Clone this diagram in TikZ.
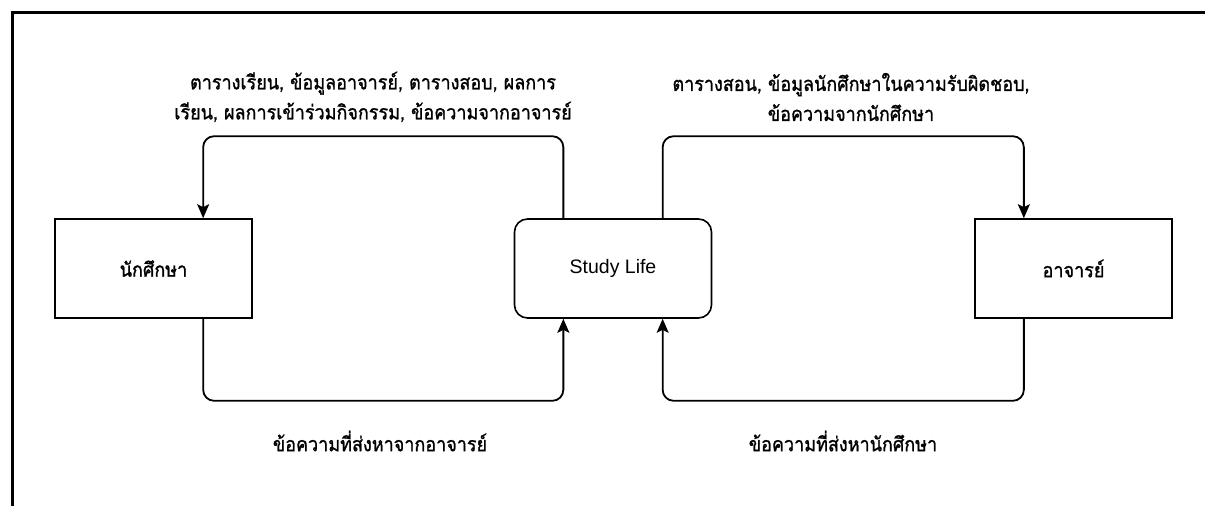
\documentclass[tikz,border=0pt]{standalone}
\usepackage{fontspec}
\setmainfont{Liberation Sans}
\newfontfamily\thai[Script=Thai, FakeStretch=0.9, FakeBold=1.2]{Loma}
\usetikzlibrary{arrows.meta,calc}
\tikzset{
  box/.style={draw, line width=1.6pt, minimum width=197pt, minimum height=99pt,
    font=\thai\fontsize{20}{24}\selectfont},
  rbox/.style={box, rounded corners=13pt, font=\fontsize{19.5}{23}\selectfont},
  conn/.style={draw, line width=1.8pt, rounded corners=11pt,
    -{Stealth[length=14pt,width=12pt,inset=3pt]}},
  lbl/.style={align=center, font=\thai\fontsize{20}{30}\selectfont, inner sep=0pt},
  frame/.style={line width=2.6pt}
}
\begin{document}
\begin{tikzpicture}[x=1pt,y=-1pt]
  \useasboundingbox (0,0) rectangle (1205,506);
  \fill[white] (0,0) rectangle (1205,506);
  % outer frame, open to the right and bottom
  \draw[frame] (1205,12.5) -- (12.5,12.5) -- (12.5,506);

  % actors and system
  \node[box]  (stu) at (153.5,268.5) {นักศึกษา};
  \node[rbox] (app) at (613,268.5)   {Study Life};
  \node[box]  (tea) at (1073.5,268.5) {อาจารย์};

  % attachment points on the boxes
  \coordinate (appNW) at ($(app.north west)!0.25!(app.north east)$);
  \coordinate (appNE) at ($(app.north west)!0.75!(app.north east)$);
  \coordinate (appSW) at ($(app.south west)!0.25!(app.south east)$);
  \coordinate (appSE) at ($(app.south west)!0.75!(app.south east)$);
  \coordinate (stuN)  at ($(stu.north west)!0.75!(stu.north east)$);
  \coordinate (stuS)  at ($(stu.south west)!0.75!(stu.south east)$);
  \coordinate (teaN)  at ($(tea.north west)!0.25!(tea.north east)$);
  \coordinate (teaS)  at ($(tea.south west)!0.25!(tea.south east)$);

  % data flows
  \draw[conn] (appNW) -- ++(0,-82) -| (stuN);
  \draw[conn] (appNE) -- ++(0,-82) -| (teaN);
  \draw[conn] (stuS)  -- ++(0,82)  -| (appSW);
  \draw[conn] (teaS)  -- ++(0,82)  -| (appSE);

  % flow labels
  \node[lbl] (l1) at (373,97) {ตารางเรียน, ข้อมูลอาจารย์, ตารางสอบ, ผลการ\\เรียน, ผลการเข้าร่วมกิจกรรม, ข้อความจากอาจารย์};
  \node[lbl] (l2) at (851,97) {ตารางสอน, ข้อมูลนักศึกษาในความรับผิดชอบ,\\ข้อความจากนักศึกษา};
  \node[lbl] (l3) at (380,441) {ข้อความที่ส่งหาจากอาจารย์};
  \node[lbl] (l4) at (843,441) {ข้อความที่ส่งหานักศึกษา};
\end{tikzpicture}
\end{document}
